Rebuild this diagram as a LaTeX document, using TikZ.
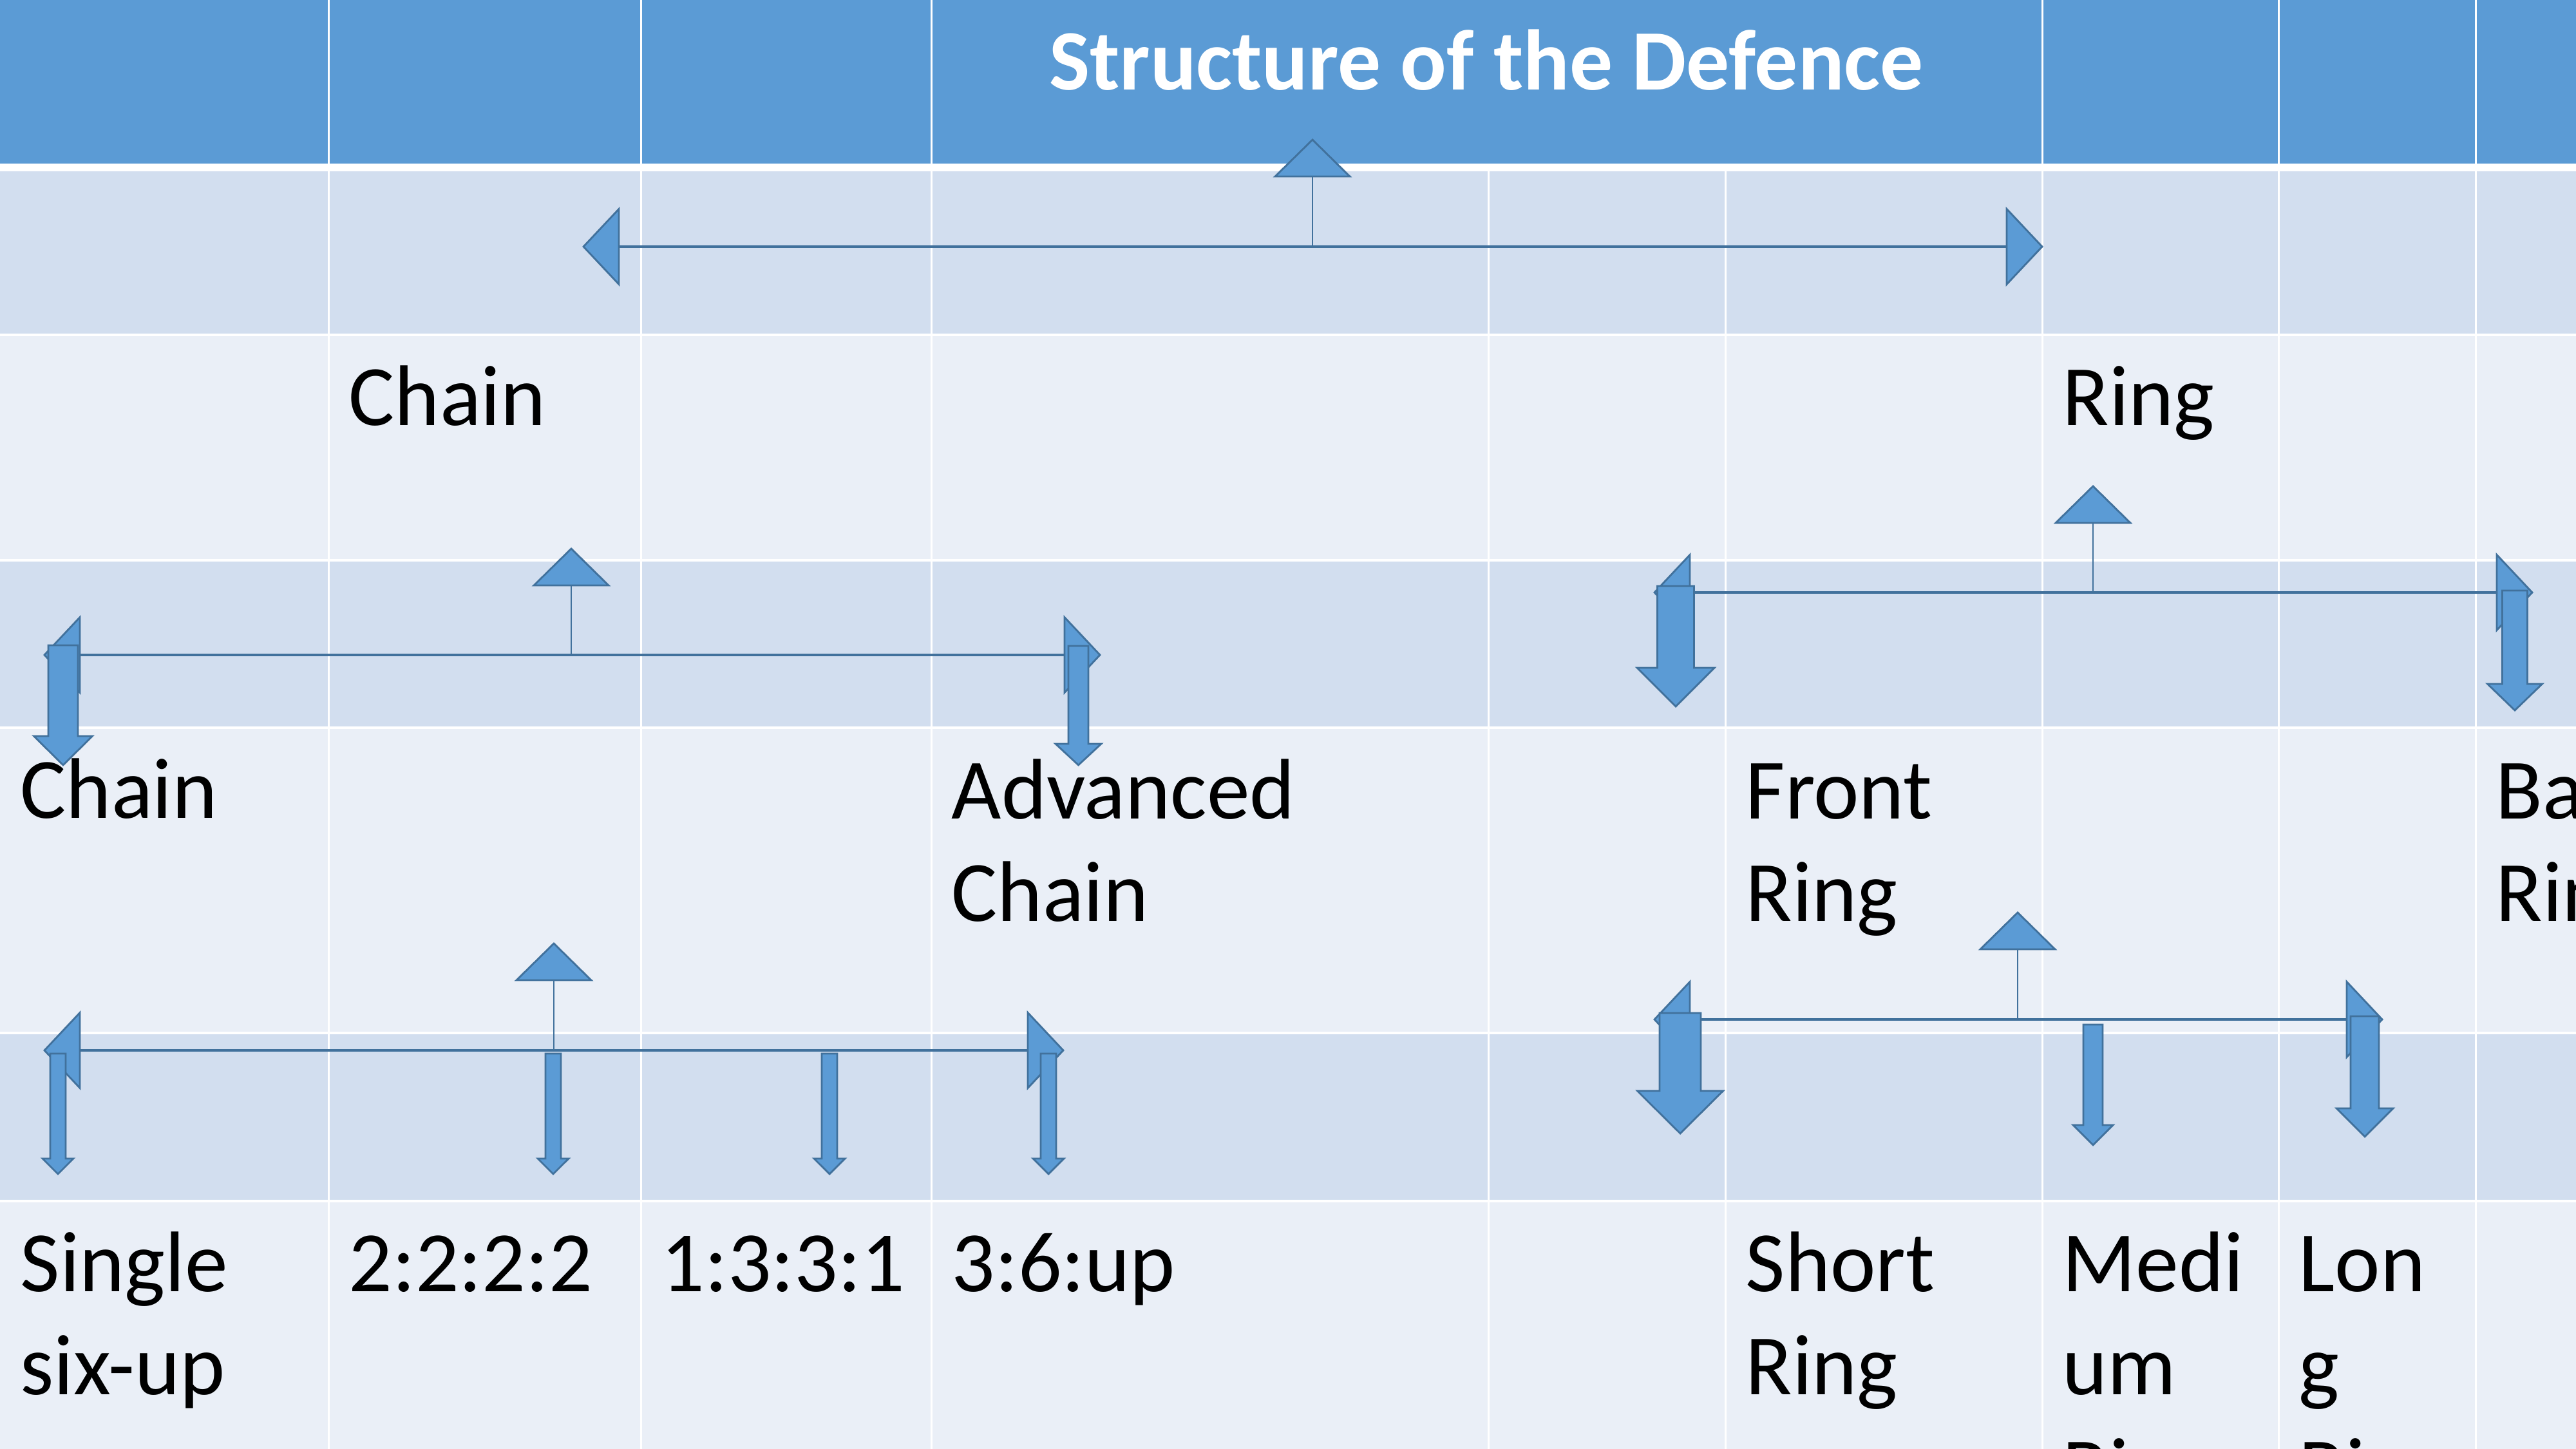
\documentclass[tikz,border=0pt]{standalone}
\usepackage{fontspec}
\setmainfont{Carlito}
\definecolor{HeaderBlue}{RGB}{91,155,213}
\definecolor{BandDark}{RGB}{210,222,239}
\definecolor{BandLight}{RGB}{234,239,247}
\definecolor{ArrowEdge}{RGB}{65,113,156}
\usetikzlibrary{calc}

\begin{document}
\begin{tikzpicture}[x=1cm,y=-1cm,
	cell/.style={font=\fontsize{38}{45.5}\selectfont,anchor=base west,inner sep=0pt,align=left},
	head/.style={fill=HeaderBlue,draw=ArrowEdge,line width=0.8pt,line join=miter},
	shaft/.style={draw=ArrowEdge,line width=1.1pt},
	stem/.style={draw=ArrowEdge,line width=0.7pt}]
\useasboundingbox (0,0) rectangle (40,22.5);
\clip (0,0) rectangle (40,22.5);
% table
\fill[white] (0,0) rectangle (40,22.5);
\fill[HeaderBlue] (0,0) rectangle (40,2.54);
\foreach \a/\b in {2.66/5.18,8.72/11.28,16.06/18.63}{
	\fill[BandDark] (0,\a) rectangle (40,\b);
}
\foreach \a/\b in {5.22/8.68,11.32/16.02,18.67/22.5}{
	\fill[BandLight] (0,\a) rectangle (40,\b);
}
\foreach \x in {5.10,9.95,14.46,31.71,35.38,38.44}{
	\draw[white,line width=0.03cm] (\x,0) -- (\x,22.5);
}
\foreach \x in {23.11,26.79}{
	\draw[white,line width=0.03cm] (\x,2.6) -- (\x,22.5);
}
\node[font=\fontsize{38}{45.5}\selectfont\bfseries,text=white,anchor=base,inner sep=0pt] (title) at (23.08,1.40) {Structure of the Defence};
% cell texts (base = last line)
\node[cell] (chain) at (5.41,6.61) {Chain};
\node[cell] (ring) at (32.02,6.61) {Ring};
\node[cell] (chainA) at (0.31,12.71) {Chain};
\node[cell] (adv) at (14.77,14.31) {Advanced\\Chain};
\node[cell] (front) at (27.10,14.31) {Front\\Ring};
\node[cell] (back) at (38.75,14.31) {Back\\Ring};
\node[cell] (single) at (0.31,21.65) {Single\\six-up};
\node[cell] (twos) at (5.41,20.05) {2:2:2:2};
\node[cell] (ones) at (10.26,20.05) {1:3:3:1};
\node[cell] (threes) at (14.77,20.05) {3:6:up};
\node[cell] (short) at (27.10,21.65) {Short\\Ring};
\node[cell] (medium) at (32.02,23.25) {Medi\\um\\Ring};
\node[cell] (long) at (35.69,23.25) {Lon\\g\\Ring};
% left-right-up arrows
\foreach \n/\xl/\xm/\xr/\yh/\yt in {1/9.06/20.38/31.71/3.83/2.17, 2/0.69/8.87/17.08/10.17/8.52,
	3/25.69/32.50/39.32/9.20/7.55, 4/0.69/8.60/16.51/16.31/14.65, 5/25.69/31.33/36.99/15.83/14.17}{
	\coordinate (l\n) at (\xl,\yh);
	\coordinate (m\n) at (\xm,\yh);
	\coordinate (r\n) at (\xr,\yh);
	\coordinate (u\n) at (\xm,\yt);
	\draw[shaft] ($(l\n)+(0.5,0)$) -- ($(r\n)-(0.5,0)$);
	\draw[stem] (m\n) -- ($(u\n)+(0,0.57)$);
	\draw[head] (l\n) -- ++(0.55,-0.585) -- ++(0,1.17) -- cycle;
	\draw[head] (r\n) -- ++(-0.55,-0.585) -- ++(0,1.17) -- cycle;
	\draw[head] (u\n) -- ++(0.58,0.57) -- ++(-1.16,0) -- cycle;
}
% down arrows
\foreach \x/\ya/\yb/\yc/\s/\h in {0.98/10.02/11.43/11.88/0.23/0.455, 16.745/10.03/11.55/11.88/0.155/0.355,
	26.02/9.10/10.37/10.97/0.285/0.60, 39.05/9.17/10.62/11.03/0.195/0.425,
	0.90/16.36/17.99/18.23/0.12/0.24, 8.59/16.36/17.99/18.23/0.12/0.24,
	12.88/16.36/17.99/18.23/0.12/0.24, 16.28/16.36/17.99/18.23/0.12/0.24,
	26.09/15.73/16.94/17.60/0.32/0.665, 32.50/15.91/17.47/17.78/0.15/0.31,
	36.72/15.78/17.21/17.65/0.22/0.44}{
	\draw[head] (\x-\s,\ya) -- (\x+\s,\ya) -- (\x+\s,\yb) -- (\x+\h,\yb) -- (\x,\yc) -- (\x-\h,\yb) -- (\x-\s,\yb) -- cycle;
}
\end{tikzpicture}
\end{document}
